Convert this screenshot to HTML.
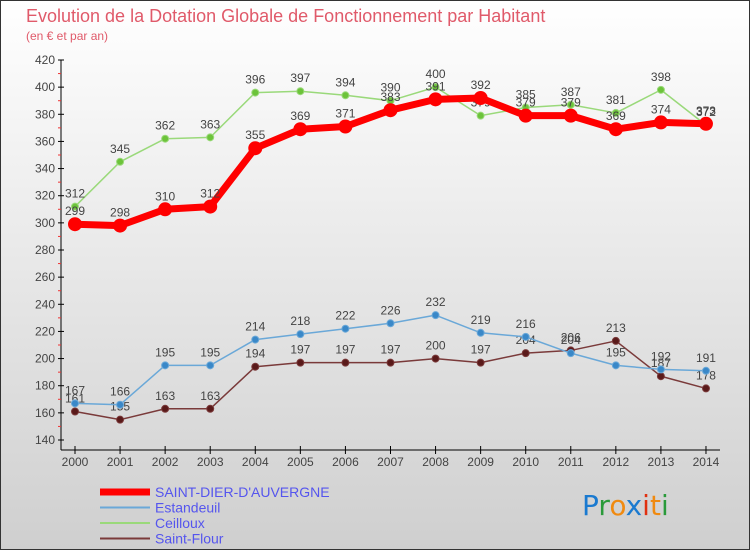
<!DOCTYPE html>
<html><head><meta charset="utf-8"><style>
body{margin:0}
#c{width:750px;height:550px;position:relative;font-family:"Liberation Sans",sans-serif;}
</style></head><body>
<div id="c">
<svg id="s" width="750" height="550" xmlns="http://www.w3.org/2000/svg">
<defs><linearGradient id="bg" x1="0" y1="0" x2="0" y2="1"><stop offset="0" stop-color="#ffffff"/><stop offset="1" stop-color="#cfcfcf"/></linearGradient></defs>
<rect x="0.5" y="0.5" width="749" height="549" fill="url(#bg)" stroke="#333"/>
<text x="26" y="22" font-size="18" fill="#e05a6a">Evolution de la Dotation Globale de Fonctionnement par Habitant</text>
<text x="26" y="40" font-size="12" fill="#e05a6a">(en € et par an)</text>
<g id="g"></g>
</svg>
</div>
<script>
const years=[2000,2001,2002,2003,2004,2005,2006,2007,2008,2009,2010,2011,2012,2013,2014];
const yTicks=[140,160,180,200,220,240,260,280,300,320,340,360,380,400,420];
const saintDier=[299,298,310,312,355,369,371,383,391,392,379,379,369,374,373];
const estandeuil=[167,166,195,195,214,218,222,226,232,219,216,204,195,192,191];
const ceilloux=[312,345,362,363,396,397,394,390,400,379,385,387,381,398,372];
const saintFlour=[161,155,163,163,194,197,197,197,200,197,204,206,213,187,178];
const NS="http://www.w3.org/2000/svg";
const g=document.getElementById('g');
const X=i=>75+i*45.07;
const Y=v=>60+(420-v)*380/280;
function mk(t,a,p){const e=document.createElementNS(NS,t);for(const k in a)e.setAttribute(k,a[k]);(p||g).appendChild(e);return e;}
// axes
let ax=mk('line',{x1:61,y1:60,x2:61,y2:450,stroke:'#000'});

let bx=mk('line',{x1:61,y1:450,x2:720,y2:450,stroke:'#000'});

yTicks.forEach((v,i)=>{
 mk('line',{x1:58,y1:Y(v),x2:64,y2:Y(v),stroke:'#000'});
 if(i<yTicks.length-1)mk('line',{x1:58,y1:Y(v+10),x2:61,y2:Y(v+10),stroke:'#e33'});
 const t=mk('text',{x:55,y:Y(v)+4,'font-size':12,fill:'#444','text-anchor':'end'});t.textContent=v;
 
});
years.forEach((y,i)=>{
 mk('line',{x1:X(i),y1:446,x2:X(i),y2:454,stroke:'#000'});
 const t=mk('text',{x:X(i),y:466,'font-size':12,fill:'#444','text-anchor':'middle'});t.textContent=y;
 
});
function series(data,color,w,r,dot,name){
 const p=mk('polyline',{points:data.map((v,i)=>X(i)+','+Y(v)).join(' '),fill:'none',stroke:color,'stroke-width':w,'stroke-linejoin':'round'});
 
 data.forEach((v,i)=>{
  const c=mk('circle',{cx:X(i),cy:Y(v),r:r,fill:dot,stroke:color,'stroke-width':1});
  
  const t=mk('text',{x:X(i),y:Y(v)-9,'font-size':12,fill:'#444','text-anchor':'middle'});t.textContent=v;
  
 });
}
series(ceilloux,'#9ad97a',1.5,3.5,'#6cc33a','ceilloux');
series(saintFlour,'#7a3a3a',1.5,3.5,'#5a1a1a','saint-flour');
series(estandeuil,'#6aa8d8',1.5,3.5,'#3a88c8','estandeuil');
series(saintDier,'#ff0000',7,6.5,'#ff0000','saint-dier');
// legend
const leg=[['SAINT-DIER-D\'AUVERGNE','#ff0000',7],['Estandeuil','#6aa8d8',2],['Ceilloux','#9ad97a',2],['Saint-Flour','#7a3a3a',2]];
leg.forEach((l,i)=>{
 const y=492+i*15.5;
 const ln=mk('line',{x1:100,y1:y,x2:150,y2:y,stroke:l[1],'stroke-width':l[2]});
 
 const t=mk('text',{x:155,y:y+5,'font-size':14,fill:'#5555ee'});t.textContent=l[0];
 
});
// logo
const logo=mk('text',{x:582,y:515,'font-size':28,'font-family':'DejaVu Sans, sans-serif'});

[['P','#1a7ad0'],['r','#2a9a3a'],['o','#f08a10'],['x','#1a7ad0'],['i','#e03010'],['t','#f08a10'],['i','#2a9a3a']].forEach(c=>{const s=mk('tspan',{fill:c[1]},logo);s.textContent=c[0];});
</script>
</body></html>
